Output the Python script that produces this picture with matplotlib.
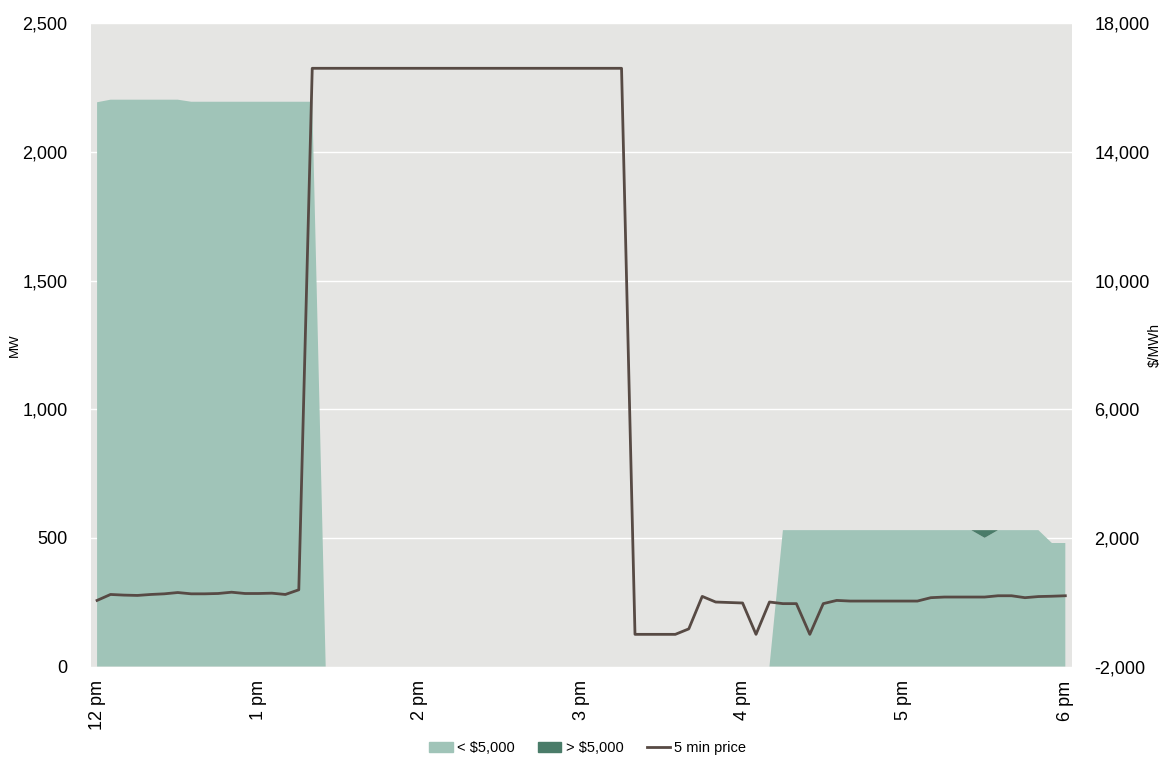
import numpy as np
import matplotlib.pyplot as plt
import matplotlib
from matplotlib.patches import Patch
from matplotlib.lines import Line2D

matplotlib.rcParams['font.family'] = ['Liberation Sans', 'DejaVu Sans']

# 5 分钟间隔, 12 pm - 6 pm
tick_labels = ['12 pm', '1 pm', '2 pm', '3 pm', '4 pm', '5 pm', '6 pm']

below_5000 = ([2193] + [2203] * 6 + [2195] * 10 + [0] * 34
              + [530] * 15 + [500] + [530] * 4 + [480] * 2)
above_5000 = [0] * 66 + [30] + [0] * 6

price = ([55, 240, 220, 210, 240, 260, 300, 260, 260, 270, 310, 270, 270, 280, 240, 385]
         + [16600] * 24
         + [-1000, -1000, -1000, -1000, -830, 180, 5, -10, -25, -1000, 5, -45, -45, -1000,
            -45, 55, 35, 35, 35, 35, 35, 35, 140, 160, 160, 160, 160, 200, 200, 140, 175, 185, 200])

x = np.arange(len(price))
light = '#a0c4b8'
dark = '#4a7c69'
line_c = '#574a44'

fig = plt.figure(figsize=(11.64, 7.58), dpi=100)
ax = fig.add_axes([0.0782, 0.1207, 0.8428, 0.8486])
ax.set_facecolor('#e5e5e3')

ax.stackplot(x, below_5000, above_5000, colors=[light, dark], linewidth=0, zorder=2)
ax.set_xlim(-0.45, 72.5)
ax.set_ylim(0, 2500)
ax.set_yticks(range(0, 2501, 500))
ax.set_yticklabels([f'{v:,}' for v in range(0, 2501, 500)], fontsize=13)
ax.set_xticks(range(0, 73, 12))
ax.set_xticklabels(tick_labels, rotation=90, fontsize=13)
ax.grid(axis='y', color='white', linewidth=1, zorder=1)
ax.set_axisbelow(True)
ax.tick_params(length=0, pad=17)
ax.tick_params(axis='x', pad=10)
ax.set_ylabel('MW', fontsize=9.5)
ax.yaxis.set_label_coords(-0.071, 0.5)
for s in ax.spines.values():
    s.set_visible(False)

ax2 = ax.twinx()
ax2.plot(x, price, color=line_c, linewidth=2, zorder=3)
ax2.set_ylim(-2000, 18000)
ax2.set_yticks(range(-2000, 18001, 4000))
ax2.set_yticklabels([f'{v:,}' for v in range(-2000, 18001, 4000)], fontsize=13)
ax2.tick_params(length=0, pad=16)
ax2.set_ylabel('$/MWh', fontsize=10, rotation=90)
ax2.yaxis.set_label_coords(1.077, 0.5)
for s in ax2.spines.values():
    s.set_visible(False)

handles = [Patch(color=light, label='< $5,000'),
           Patch(color=dark, label='> $5,000'),
           Line2D([0], [0], color=line_c, linewidth=2, label='5 min price')]
fig.legend(handles=handles, loc='center', bbox_to_anchor=(0.505, 0.013), ncol=3,
           frameon=False, fontsize=10.5, handlelength=1.6, handleheight=0.6,
           columnspacing=1.6, handletextpad=0.3)

fig.savefig('out.png', dpi=100)
